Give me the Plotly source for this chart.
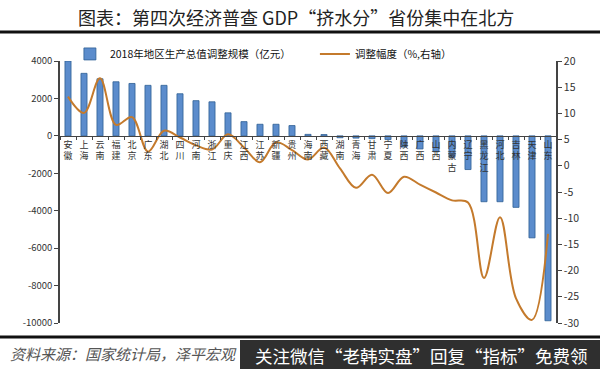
import plotly.graph_objects as go

provinces = ["安徽", "上海", "云南", "福建", "北京", "广东", "湖北", "四川", "河南", "浙江",
             "重庆", "江西", "江苏", "新疆", "贵州", "海南", "西藏", "湖南", "青海", "甘肃",
             "宁夏", "陕西", "广西", "山西", "内蒙古", "辽宁", "黑龙江", "河北", "吉林", "天津", "山东"]
gdp_adjust = [4000, 3340, 3050, 2890, 2800, 2700, 2700, 2250, 1880, 1820,
              1230, 760, 620, 620, 550, 80, 70, -100, -120, -150,
              -200, -600, -700, -850, -1150, -1800, -3520, -3520, -3820, -5450, -9880]
adjust_pct = [13.2, 10.1, 16.7, 7.8, 9.3, 2.7, 6.7, 5.4, 3.9, 3.1,
              6.0, 3.5, 0.7, 4.5, 3.0, 1.2, 3.5, -0.5, -4.2, -1.7,
              -5.2, -2.1, -3.6, -5.1, -6.6, -7.0, -21.4, -9.8, -25.3, -29.4, -13.0]
left_ticks = [4000, 2000, 0, -2000, -4000, -6000, -8000, -10000]
right_ticks = [20, 15, 10, 5, 0, -5, -10, -15, -20, -25, -30]

tick_text = ["<br>".join(list(p)) for p in provinces]

serif = "Noto Sans CJK SC"

fig = go.Figure()
fig.add_trace(go.Bar(
    x=provinces, y=gdp_adjust, name="2018年地区生产总值调整规模（亿元）",
    marker=dict(color="#5b8ccc", line=dict(color="#2f5f94", width=0.8)),
    width=0.38, yaxis="y",
))
fig.add_trace(go.Scatter(
    x=provinces, y=adjust_pct, name="调整幅度（%,右轴）", mode="lines",
    line=dict(color="#c47a2c", width=2, shape="spline", smoothing=1.0),
    yaxis="y2",
))

fig.update_layout(
    width=600, height=369,
    margin=dict(l=60, r=44, t=61, b=46, autoexpand=False),
    paper_bgcolor="white", plot_bgcolor="white",
    font=dict(family=serif, size=10, color="#222"),
    showlegend=True,
    legend=dict(orientation="h", x=0.02, y=1.027, xanchor="left", yanchor="middle",
                font=dict(size=10.5, color="#111"), bgcolor="rgba(0,0,0,0)",
                entrywidth=200, entrywidthmode="pixels", itemwidth=30),
    bargap=0.6,
    xaxis=dict(
        type="category", tickmode="array", tickvals=provinces, ticktext=tick_text,
        tickangle=0,
        anchor="free", position=10000 / 14000,
        showline=True, linecolor="#444", linewidth=1,
        ticks="outside", ticklen=3, tickcolor="#444", tickson="boundaries",
        tickfont=dict(size=9, color="#333"), showgrid=False, zeroline=False,
        range=[-0.5, 30.5],
    ),
    yaxis=dict(
        range=[-10000, 4000], tickmode="array", tickvals=left_ticks,
        ticktext=[str(v) for v in left_ticks],
        showline=True, linecolor="#444", linewidth=1.5,
        ticks="outside", ticklen=4, tickcolor="#444",
        tickfont=dict(size=9.5, color="#333"), showgrid=False, zeroline=False,
    ),
    yaxis2=dict(
        range=[-30, 20], tickmode="array", tickvals=right_ticks,
        ticktext=[str(v) for v in right_ticks], overlaying="y", side="right",
        showline=True, linecolor="#444", linewidth=1.5,
        ticks="outside", ticklen=4, tickcolor="#444",
        tickfont=dict(size=10.5, color="#333"), showgrid=False, zeroline=False,
    ),
)

# title and frame lines
pw, ph = 496.0, 262.0
fig.add_annotation(text="图表：第四次经济普查 GDP“挤水分”省份集中在北方",
                   xref="paper", yref="paper", x=(296 - 60) / pw, y=(323 - 17) / ph,
                   showarrow=False, xanchor="center", yanchor="middle",
                   font=dict(family=serif, size=18, color="#222"))
fig.add_shape(type="line", xref="paper", yref="paper",
              x0=-60 / pw, x1=540 / pw, y0=(323 - 32) / ph, y1=(323 - 32) / ph,
              line=dict(color="#111", width=3))
fig.add_shape(type="line", xref="paper", yref="paper",
              x0=-60 / pw, x1=540 / pw, y0=(323 - 337) / ph, y1=(323 - 337) / ph,
              line=dict(color="#111", width=3))
fig.add_annotation(text="<i>资料来源：国家统计局，泽平宏观</i>",
                   xref="paper", yref="paper", x=(8 - 60) / pw, y=(323 - 353) / ph,
                   showarrow=False, xanchor="left", yanchor="middle",
                   font=dict(family=serif, size=15, color="#555"))
fig.add_shape(type="rect", xref="paper", yref="paper",
              x0=(240 - 60) / pw, x1=540 / pw, y0=(323 - 340) / ph, y1=(323 - 370) / ph,
              line=dict(width=0), fillcolor="#2f2f2f", layer="above")
fig.add_annotation(text="关注微信“老韩实盘”回复“指标”免费领",
                   xref="paper", yref="paper", x=(421 - 60) / pw, y=(323 - 355) / ph,
                   showarrow=False, xanchor="center", yanchor="middle",
                   font=dict(family=serif, size=17.5, color="white"))

fig.write_html("out.html", config={"displayModeBar": False},
               post_script="document.body.style.margin='0';document.body.style.overflow='hidden';")
